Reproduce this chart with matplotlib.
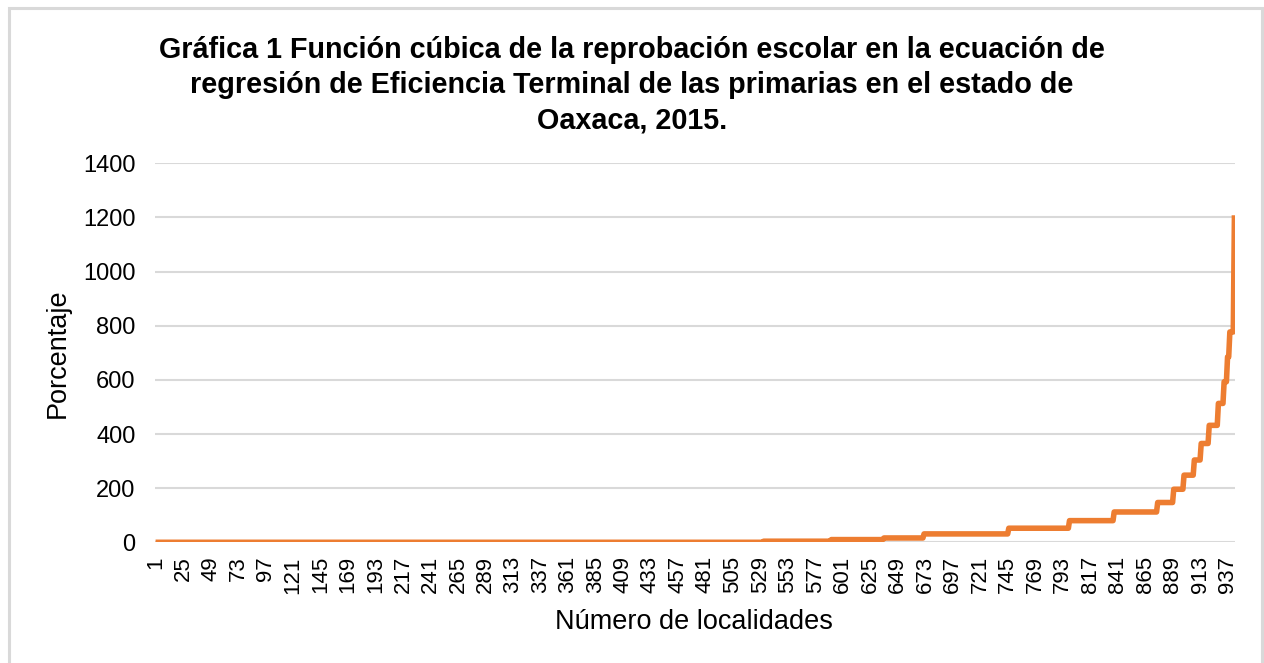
import matplotlib
matplotlib.use('Agg')
import matplotlib.pyplot as plt
import numpy as np
from matplotlib.patches import Rectangle

plt.rcParams.update({
    'font.family': ['Liberation Sans', 'DejaVu Sans'],
    'axes.spines.top': False,
    'axes.spines.right': False,
    'axes.spines.left': False,
    'axes.spines.bottom': False,
})

ORANGE = '#ED7D31'
GRID = '#D9D9D9'

# Step levels of the sorted series and how many localidades sit on each one
niveles = [0, 4, 10, 16, 31, 52, 80, 112, 147, 196, 248, 304, 365, 432, 513, 593, 685, 777, 1208]
conteos = [531, 59, 46, 35, 74, 53, 39, 38, 14, 9, 9, 6, 7, 8, 5, 3, 2, 4, 1]
y_ticks = [0, 200, 400, 600, 800, 1000, 1200, 1400]
paso_etiquetas = 24

valores = np.repeat(niveles, conteos)
localidades = np.arange(1, len(valores) + 1)

fig = plt.figure(figsize=(12.64, 6.63), dpi=100)
ax = fig.add_axes([155 / 1264, 1 - 542.3 / 663, 1080 / 1264, 379 / 663])

ax.plot(localidades, valores, color=ORANGE, linewidth=4, solid_capstyle='butt', zorder=3)

ax.set_xlim(0.5, len(valores) + 0.5)
ax.set_ylim(0, 1400)
ax.set_yticks(y_ticks)
ax.yaxis.grid(True, color=GRID, linewidth=1.5)
ax.set_axisbelow(True)
ax.tick_params(axis='y', length=0, pad=14, labelsize=17)

xt = localidades[::paso_etiquetas]
ax.set_xticks(xt)
ax.set_xticklabels([str(v) for v in xt], rotation=90)
ax.tick_params(axis='x', length=0, pad=10, labelsize=16)

fig.text(0.5, 1 - 36 / 663,
         'Gráfica 1 Función cúbica de la reprobación escolar en la ecuación de\n'
         'regresión de Eficiencia Terminal de las primarias en el estado de\n'
         'Oaxaca, 2015.',
         ha='center', va='top', fontsize=20.7, fontweight='bold', linespacing=1.32)
fig.text(58 / 1264, 1 - 353 / 663, 'Porcentaje', rotation=90,
         ha='center', va='center', fontsize=19.5)
fig.text(694 / 1264, 1 - 622 / 663, 'Número de localidades',
         ha='center', va='center', fontsize=19.5)

# light frame around the chart area
fig.add_artist(Rectangle((9 / 1264, -0.05), 1253 / 1264, 1.05 - 8 / 663,
                         transform=fig.transFigure, fill=False,
                         edgecolor=GRID, linewidth=2.2))

fig.savefig('out.png', dpi=100)
